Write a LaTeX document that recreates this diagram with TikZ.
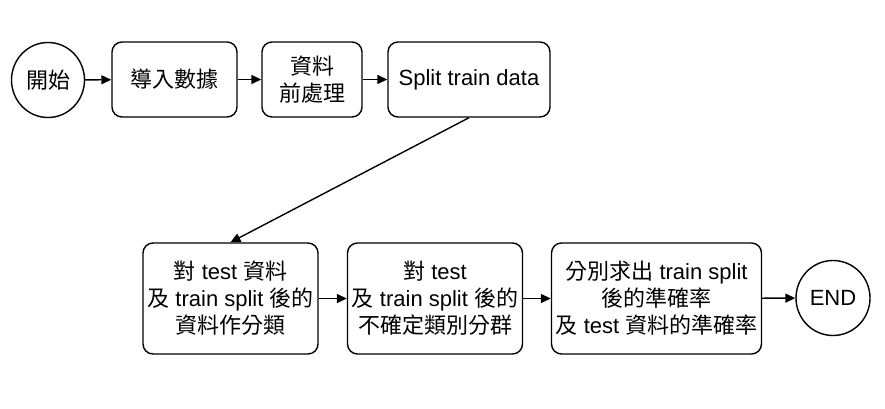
\documentclass[tikz,border=0pt]{standalone}
\usepackage{fontspec}
\setmainfont{Liberation Sans}
\newfontfamily\cjk{Noto Sans CJK TC}
\newcommand\C[1]{{\cjk #1}}
\usetikzlibrary{arrows.meta,shapes.geometric}
\begin{document}
\begin{tikzpicture}[x=1pt,y=-1pt,
  box/.style={draw,line width=1.4pt,rounded corners=10pt,align=center,inner sep=0pt,font=\fontsize{22}{27}\selectfont},
  term/.style={draw,line width=1.4pt,ellipse,inner sep=0pt,align=center,font=\fontsize{22}{27}\selectfont},
  arr/.style={line width=1.4pt,-{Triangle[length=10pt,width=9pt]}}]
\useasboundingbox (0,0) rectangle (885,409);
\node[term,minimum width=73pt,minimum height=75pt] (s) at (48,80) {\C{開始}};
\node[box,minimum width=125pt,minimum height=75pt] (b1) at (174.5,79.5) {\C{導入數據}};
\node[box,minimum width=100pt,minimum height=75pt] (b2) at (312,79.5) {\C{資料}\\\C{前處理}};
\node[box,minimum width=162pt,minimum height=75pt] (b3) at (469,79.5) {Split train data};
\node[box,minimum width=175pt,minimum height=111pt] (c1) at (230.5,298.5) {\C{對} test \C{資料}\\\C{及} train split \C{後的}\\\C{資料作分類}};
\node[box,minimum width=175pt,minimum height=111pt] (c2) at (435,298.5) {\C{對} test\\\C{及} train split \C{後的}\\\C{不確定類別分群}};
\node[box,minimum width=210pt,minimum height=111pt] (c3) at (656.5,298.5) {\C{分別求出} train split\\\C{後的準確率}\\\C{及} test \C{資料的準確率}};
\node[term,minimum width=74pt,minimum height=75pt] (e) at (833,298) {END};
\draw[arr] (s) -- (b1);
\draw[arr] (b1) -- (b2);
\draw[arr] (b2) -- (b3);
\draw[arr] (b3.south) -- (c1.north);
\draw[arr] (c1) -- (c2);
\draw[arr] (c2) -- (c3);
\draw[arr] (c3) -- (e);
\end{tikzpicture}
\end{document}
